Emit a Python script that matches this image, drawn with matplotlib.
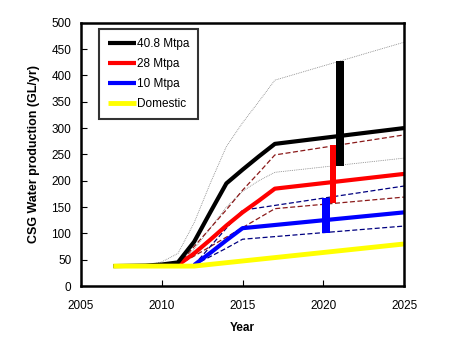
import matplotlib
matplotlib.use("Agg")
import matplotlib.pyplot as plt

plt.rcParams['font.family'] = ['Liberation Sans', 'DejaVu Sans']

# Main scenario lines
yrs_408 = [2007, 2009, 2010, 2011, 2012, 2013, 2014, 2015, 2016, 2017, 2025]
val_408 = [38, 39, 41, 45, 84, 140, 195, 221, 246, 270, 300]
yrs_28 = [2011, 2012, 2013, 2014, 2015, 2016, 2017, 2025]
val_28 = [40, 62, 88, 115, 140, 162, 185, 213]
yrs_10 = [2012, 2013, 2014, 2015, 2025]
val_10 = [40, 63, 87, 110, 140]
yrs_dom = [2007, 2012, 2025]
val_dom = [38, 38, 80]

# Uncertainty envelopes
yrs_408_hi = [2009, 2010, 2011, 2012, 2013, 2014, 2015, 2016, 2017, 2025]
val_408_hi = [38, 46, 62, 120, 195, 265, 310, 350, 391, 463]
yrs_408_lo = [2010, 2011, 2012, 2013, 2014, 2015, 2016, 2017, 2025]
val_408_lo = [40, 42, 70, 110, 150, 180, 200, 216, 243]
yrs_28_hi = [2011, 2012, 2013, 2014, 2015, 2016, 2017, 2025]
val_28_hi = [40, 75, 110, 145, 182, 215, 249, 287]
yrs_28_lo = [2011, 2012, 2013, 2014, 2015, 2016, 2017, 2025]
val_28_lo = [40, 57, 75, 93, 111, 129, 147, 169]
yrs_10_hi = [2012, 2013, 2014, 2015, 2025]
val_10_hi = [40, 75, 110, 144, 190]
yrs_10_lo = [2012, 2013, 2014, 2015, 2025]
val_10_lo = [40, 56, 72, 89, 114]

# Vertical range bars
bar_x = [2021.05, 2020.6, 2020.17]
bar_lo = [228, 158, 101]
bar_hi = [428, 268, 168]
bar_w = [0.52, 0.42, 0.5]
bar_c = ['black', '#ff0000', '#0000ff']

legend_labels = ['40.8 Mtpa', '28 Mtpa', '10 Mtpa', 'Domestic']

fig = plt.figure(figsize=(4.5, 3.39), dpi=100)
ax = fig.add_axes([0.18, 0.156, 0.718, 0.777])

dashed = (0, (4, 2))
ax.plot(yrs_408_hi, val_408_hi, color='#808080', lw=0.6, ls=(0, (1, 1.2)))
ax.plot(yrs_408_lo, val_408_lo, color='#808080', lw=0.6, ls=(0, (1, 1.2)))
ax.plot(yrs_28_hi, val_28_hi, color='#8b1a1a', lw=0.9, ls=dashed)
ax.plot(yrs_28_lo, val_28_lo, color='#8b1a1a', lw=0.9, ls=dashed)
ax.plot(yrs_10_hi, val_10_hi, color='#000080', lw=0.9, ls=dashed)
ax.plot(yrs_10_lo, val_10_lo, color='#000080', lw=0.9, ls=dashed)

l10, = ax.plot(yrs_10, val_10, color='#0000ff', lw=3, solid_capstyle='butt')
l28, = ax.plot(yrs_28, val_28, color='#ff0000', lw=3, solid_capstyle='butt')
l408, = ax.plot(yrs_408, val_408, color='black', lw=3, solid_capstyle='butt')
l_dom, = ax.plot(yrs_dom, val_dom, color='#ffff00', lw=3.5, solid_capstyle='butt')

for x, lo, hi, w, c in zip(bar_x, bar_lo, bar_hi, bar_w, bar_c):
    ax.bar(x, hi - lo, bottom=lo, width=w, color=c, zorder=5)

ax.set_xlim(2005, 2025)
ax.set_ylim(0, 500)
ax.set_xticks([2005, 2010, 2015, 2020, 2025])
ax.set_yticks(range(0, 501, 50))
ax.tick_params(direction='in', labelsize=8.5, length=4, width=0.8)
ax.tick_params(axis='x', pad=10)
ax.tick_params(axis='y', pad=7)
for s in ax.spines.values():
    s.set_linewidth(1.8)
ax.set_xlabel('Year', fontsize=8.5, fontweight='bold', labelpad=7)
ax.set_ylabel('CSG Water production (GL/yr)', fontsize=9, fontweight='bold', labelpad=8)

leg = ax.legend([l408, l28, l10, l_dom], legend_labels, loc='upper left',
                bbox_to_anchor=(0.055, 0.975), fontsize=8.5, frameon=True,
                fancybox=False, edgecolor='black', handlelength=2.4,
                handletextpad=0.1, labelspacing=0.68, borderpad=0.75,
                borderaxespad=0)
leg.get_frame().set_linewidth(1.5)

fig.savefig('out.png', dpi=100)
